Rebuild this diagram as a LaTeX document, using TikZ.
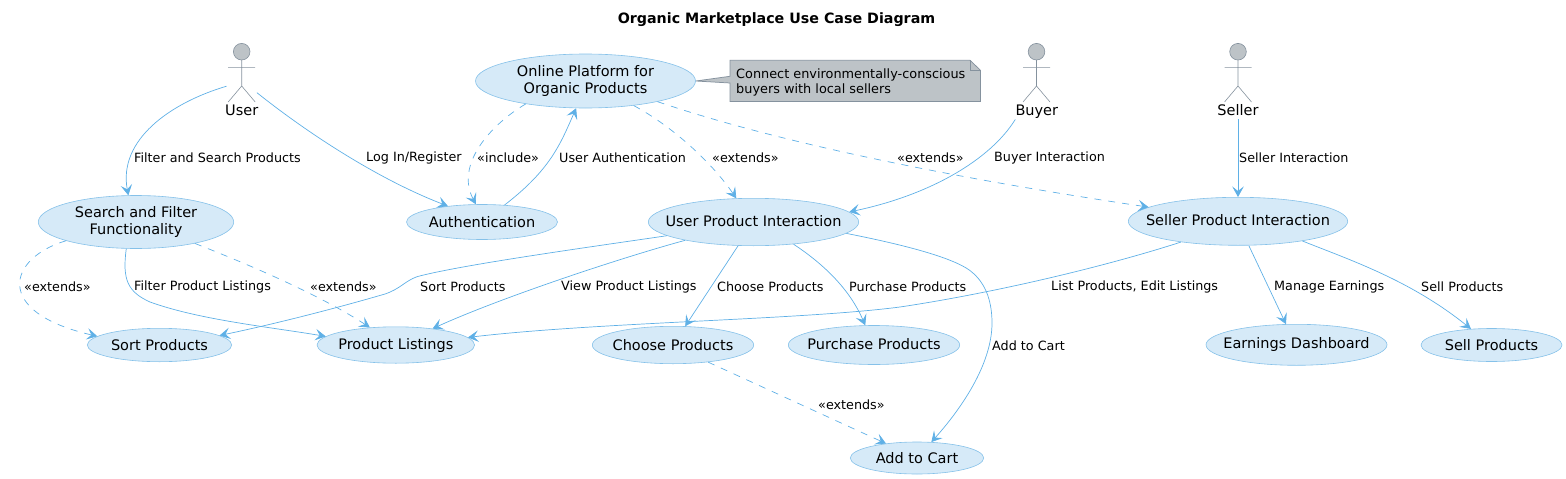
\documentclass[tikz,border=0pt]{standalone}
\usepackage{fontspec}
\setmainfont{DejaVu Sans}
\usetikzlibrary{shapes.geometric,arrows.meta}
\definecolor{lnc}{HTML}{5FB0E6}
\definecolor{ucb}{HTML}{85C1E9}
\definecolor{ucf}{HTML}{D6EAF8}
\definecolor{notef}{HTML}{BDC3C7}
\definecolor{noted}{HTML}{85929E}
\tikzset{
  uc/.style n args={2}{ellipse,draw=ucb,line width=.6pt,fill=ucf,inner xsep=-30pt,inner ysep=-8pt,minimum width=#1,minimum height=#2,align=center,font=\fontsize{14.5}{16.2}\selectfont},
  raised/.style={text depth=3pt},
  lbl/.style={anchor=west,inner sep=0pt,yshift=-.7pt,font=\fontsize{12.75}{15}\selectfont},
  actorname/.style={inner sep=0pt,text height=11pt,text depth=3.5pt,font=\fontsize{14.5}{16}\selectfont},
  rel/.style={draw=lnc,line width=.7pt,-{Stealth[length=10.5pt,width=11.5pt,inset=4.5pt]}},
  dep/.style={rel,dash pattern=on 7pt off 7pt},
  stick/.style={draw=noted,line width=.6pt},
  head/.style={draw=noted,fill=notef,line width=.6pt}
}
\begin{document}
\begin{tikzpicture}[x=1pt,y=-1pt]
\useasboundingbox (0,0) rectangle (1566,479);
\node[font=\bfseries\fontsize{14.25}{16}\selectfont] (title) at (776.5,19.5) {Organic Marketplace Use Case Diagram};
% actors
\node[inner sep=0pt,minimum width=30pt,minimum height=59pt] (userfig) at (241.7,72.5) {};
\foreach \ax in {241.7,1036.5,1238}{
  \draw[head] (\ax,51.7) circle (8.3pt);
  \draw[stick] (\ax,60) -- (\ax,86) (\ax-13.5,67.4) -- (\ax+13.5,67.4) (\ax-13.5,102) -- (\ax,86) -- (\ax+13.5,102);
}
\node[actorname] (user) at (241.7,112) {User};
\node[actorname] (buyer) at (1036.8,112) {Buyer};
\node[actorname] (seller) at (1238,112) {Seller};
% use cases
\node[uc={220pt}{54pt}] (online) at (585.5,81) {Online Platform for\\Organic Products};
\node[uc={151pt}{35pt}] (auth) at (482,222) {Authentication};
\node[uc={195.4pt}{53pt}] (search) at (136,222) {Search and Filter\\Functionality};
\node[uc={144.4pt}{33.4pt}] (sort) at (159.5,345) {Sort Products};
\node[uc={157.6pt}{36.4pt}] (plist) at (395.8,345) {Product Listings};
\node[uc={210.4pt}{47.4pt},raised] (upi) at (753.5,222) {User Product Interaction};
\node[uc={161.4pt}{37.4pt}] (choose) at (673,345) {Choose Products};
\node[uc={171.4pt}{39pt},raised] (purchase) at (874,345) {Purchase Products};
\node[uc={133.4pt}{32pt}] (cart) at (917,458) {Add to Cart};
\node[uc={219.4pt}{48pt},raised] (spi) at (1238,221.3) {Seller Product Interaction};
\node[uc={181pt}{41pt}] (earn) at (1296.5,344.8) {Earnings Dashboard};
\node[uc={141pt}{33pt}] (sell) at (1491.5,345) {Sell Products};
% note
\draw[draw=noted,fill=notef,line width=.75pt] (730,60.3) -- (970,60.3) -- (980.5,70.3) -- (980.5,101.5) -- (730,101.5) -- (730,83) -- (online.east) -- (730,76.3) -- cycle;
\draw[draw=noted,line width=.75pt] (970,60.3) -- (970,70.3) -- (980.5,70.3);
\node[anchor=west,inner sep=0pt,align=left,font=\fontsize{12.85}{14.6}\selectfont] (note) at (736,82.2) {Connect environmentally-conscious\\buyers with local sellers};
% relations
\draw[rel] (userfig.222) .. controls (170,103) and (118,140) .. (search.106.5);
\draw[rel] (userfig.-53.8) .. controls (310,135) and (380,180) .. (auth.155.8);
\draw[dep] (online.201.6) .. controls (490,125) and (455,165) .. (auth.109.8);
\draw[rel] (auth.37.7) .. controls (550,170) and (560,145) .. (online.251.4);
\draw[dep] (online.-27.6) .. controls (670,125) and (710,160) .. (upi.126);
\draw[dep] (online.-16.7) .. controls (800,150) and (1000,185) .. (spi.171.6);
\draw[rel] (buyer.south west) .. controls (990,160) and (930,195) .. (upi.6.3);
\draw[rel] (seller.south) -- (spi.north);
\draw[dep] (search.195) .. controls (8,258) and (-8,312) .. (sort.172.7);
\draw[rel] (search.250) .. controls (122,280) and (128,292) .. (150,302) .. controls (200,320) and (270,327) .. (plist.173);
\draw[dep] (search.-20.2) .. controls (250,265) and (320,295) .. (plist.146.6);
\draw[rel] (upi.189) .. controls (590,247) and (460,265) .. (417,276.7) .. controls (405,281) and (400,289) .. (385,294) .. controls (330,310) and (270,325) .. (sort.9.7);
\draw[rel] (upi.195.6) .. controls (620,258) and (500,298) .. (plist.24);
\draw[rel] (spi.200) .. controls (1110,265) and (1000,292) .. (900,307) .. controls (800,320) and (600,322) .. (plist.6);
\draw[rel] (upi.237.3) -- (choose.57);
\draw[rel] (upi.-29.6) .. controls (825,265) and (850,290) .. (purchase.114.8);
\draw[rel] (upi.-7) .. controls (895,243) and (945,255) .. (966.7,268.3) .. controls (985,280) and (992,300) .. (992,323) .. controls (992,365) and (960,410) .. (cart.48);
\draw[dep] (choose.-26) -- (cart.155.6);
\draw[rel] (spi.-66) -- (earn.117);
\draw[rel] (spi.-17) .. controls (1350,260) and (1410,280) .. (sell.142);
% labels
\node[lbl] (l1) at (134,157) {Filter and Search Products};
\node[lbl] (l2) at (366,157) {Log In/Register};
\node[lbl] (l3) at (477,157) {«include»};
\node[lbl] (l4) at (559,157) {User Authentication};
\node[lbl] (l5) at (712,157) {«extends»};
\node[lbl] (l6) at (897,157) {«extends»};
\node[lbl] (l7) at (994,157) {Buyer Interaction};
\node[lbl] (l8) at (1239,157) {Seller Interaction};
\node[lbl] (l9) at (24,286) {«extends»};
\node[lbl] (l10) at (134,286) {Filter Product Listings};
\node[lbl] (l11) at (310,286) {«extends»};
\node[lbl] (l12) at (420,286) {Sort Products};
\node[lbl] (l13) at (561,286) {View Product Listings};
\node[lbl] (l14) at (717,286) {Choose Products};
\node[lbl] (l15) at (849,286) {Purchase Products};
\node[lbl] (l16) at (1051,286) {List Products, Edit Listings};
\node[lbl] (l17) at (1274,286) {Manage Earnings};
\node[lbl] (l18) at (1421,286) {Sell Products};
\node[lbl] (l19) at (992,345) {Add to Cart};
\node[lbl] (l20) at (818,404) {«extends»};
\end{tikzpicture}
\end{document}
